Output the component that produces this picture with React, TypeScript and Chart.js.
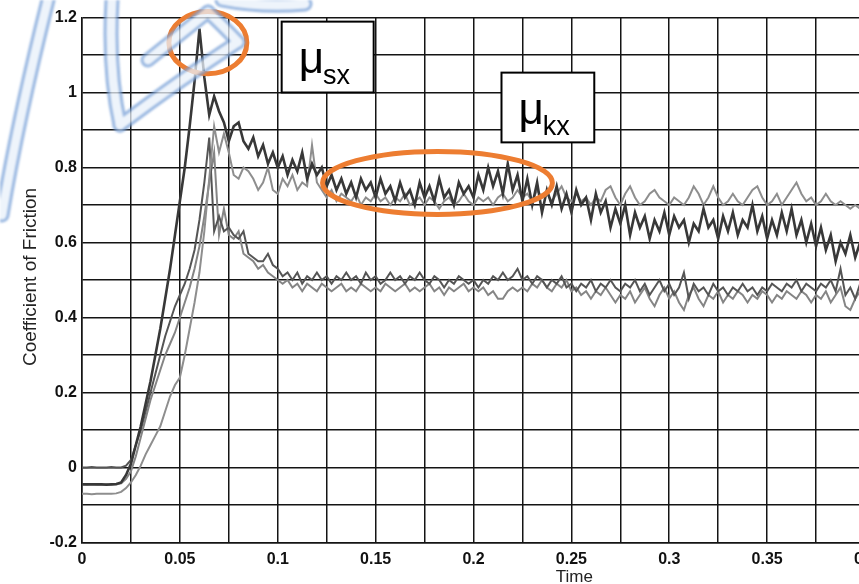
import React, { useEffect, useRef } from "react";
import { Chart, registerables } from "chart.js";

Chart.register(...registerables);

// sample grid: every 0.0025 s from 0 to 0.4
const timeStep = 0.0025;
const time: number[] = Array.from({ length: 161 }, (_, i) => +(i * timeStep).toFixed(4));

const upperDark: number[] = [
  -0.045, -0.045, -0.045, -0.045, -0.045, -0.046, -0.045, -0.044, -0.04, -0.02,
  0.01, 0.06, 0.11, 0.17, 0.23, 0.30, 0.37, 0.45, 0.53, 0.62,
  0.71, 0.80, 0.91, 1.03, 1.17, 1.04, 0.94, 0.99, 0.95, 0.92,
  0.87, 0.91, 0.92, 0.87, 0.85, 0.88, 0.83, 0.86, 0.81, 0.84,
  0.80, 0.83, 0.78, 0.82, 0.79, 0.84, 0.77, 0.81, 0.78, 0.80,
  0.75, 0.78, 0.74, 0.77, 0.73, 0.76, 0.72, 0.77, 0.74, 0.76,
  0.72, 0.77, 0.73, 0.75, 0.71, 0.76, 0.72, 0.74, 0.70, 0.76,
  0.72, 0.75, 0.71, 0.77, 0.72, 0.74, 0.70, 0.76, 0.73, 0.75,
  0.72, 0.78, 0.74, 0.80, 0.75, 0.79, 0.73, 0.81, 0.74, 0.78,
  0.71, 0.77, 0.70, 0.76, 0.68, 0.74, 0.70, 0.75, 0.69, 0.73,
  0.68, 0.74, 0.70, 0.72, 0.66, 0.73, 0.68, 0.71, 0.64, 0.69,
  0.65, 0.70, 0.62, 0.68, 0.64, 0.67, 0.61, 0.66, 0.63, 0.68,
  0.62, 0.67, 0.64, 0.66, 0.60, 0.65, 0.63, 0.69, 0.64, 0.66,
  0.61, 0.67, 0.63, 0.68, 0.62, 0.66, 0.64, 0.70, 0.63, 0.67,
  0.61, 0.66, 0.62, 0.68, 0.63, 0.69, 0.62, 0.66, 0.60, 0.65,
  0.59, 0.64, 0.58, 0.62, 0.55, 0.60, 0.57, 0.62, 0.56, 0.60, 0.58,
];

const upperLight: number[] = [
  -0.07, -0.07, -0.071, -0.07, -0.07, -0.07, -0.07, -0.069, -0.065, -0.055,
  -0.04, -0.02, 0.005, 0.035, 0.06, 0.085, 0.11, 0.15, 0.19, 0.22,
  0.24, 0.30, 0.37, 0.44, 0.52, 0.63, 0.77, 0.91, 0.84, 0.89,
  0.84, 0.78, 0.77, 0.80, 0.79, 0.77, 0.74, 0.76, 0.80, 0.74,
  0.73, 0.77, 0.75, 0.78, 0.74, 0.76, 0.75, 0.86, 0.76, 0.74,
  0.72, 0.74, 0.71, 0.73, 0.72, 0.71, 0.73, 0.70, 0.72, 0.71,
  0.73, 0.71, 0.72, 0.70, 0.72, 0.71, 0.73, 0.70, 0.71, 0.72,
  0.70, 0.72, 0.71, 0.69, 0.71, 0.72, 0.70, 0.71, 0.73, 0.71,
  0.70, 0.72, 0.71, 0.72, 0.70, 0.72, 0.73, 0.71, 0.72, 0.74,
  0.72, 0.73, 0.71, 0.74, 0.72, 0.73, 0.71, 0.73, 0.75, 0.72,
  0.71, 0.73, 0.71, 0.72, 0.70, 0.72, 0.71, 0.74, 0.75, 0.72,
  0.70, 0.73, 0.75, 0.72, 0.70, 0.71, 0.73, 0.74, 0.72, 0.71,
  0.70, 0.72, 0.71, 0.70, 0.72, 0.75, 0.73, 0.70, 0.72, 0.75,
  0.72, 0.70, 0.71, 0.73, 0.71, 0.70, 0.72, 0.74, 0.75, 0.72,
  0.70, 0.71, 0.73, 0.70, 0.72, 0.74, 0.76, 0.73, 0.71, 0.72,
  0.70, 0.71, 0.73, 0.71, 0.70, 0.71, 0.70, 0.69, 0.70, 0.69, 0.69,
];

const lowerDark: number[] = [
  0, 0, 0.001, 0, 0, 0, 0.001, 0, 0, 0.005,
  0.02, 0.06, 0.10, 0.15, 0.20, 0.25, 0.30, 0.35, 0.39, 0.43,
  0.46, 0.49, 0.53, 0.58, 0.66, 0.76, 0.88, 0.63, 0.67, 0.63,
  0.64, 0.62, 0.61, 0.63, 0.57, 0.56, 0.55, 0.55, 0.57, 0.54,
  0.53, 0.51, 0.52, 0.50, 0.52, 0.49, 0.51, 0.50, 0.52, 0.50,
  0.51, 0.49, 0.51, 0.50, 0.52, 0.50, 0.51, 0.49, 0.52, 0.50,
  0.51, 0.49, 0.50, 0.52, 0.50, 0.51, 0.49, 0.51, 0.50, 0.52,
  0.50, 0.49, 0.51, 0.50, 0.48, 0.50, 0.49, 0.51, 0.50, 0.49,
  0.50, 0.48, 0.50, 0.49, 0.51, 0.50, 0.52, 0.50, 0.51, 0.53,
  0.50, 0.51, 0.49, 0.51, 0.50, 0.48, 0.50, 0.49, 0.51, 0.48,
  0.49, 0.47, 0.49, 0.48, 0.50, 0.47, 0.49, 0.48, 0.50, 0.48,
  0.47, 0.49, 0.48, 0.50, 0.47, 0.49, 0.46, 0.48, 0.50, 0.47,
  0.49, 0.46, 0.48, 0.52, 0.45, 0.49, 0.47, 0.48, 0.46, 0.49,
  0.47, 0.48, 0.46, 0.48, 0.47, 0.49, 0.47, 0.48, 0.46, 0.48,
  0.47, 0.49, 0.48, 0.47, 0.49, 0.48, 0.50, 0.47, 0.49, 0.48,
  0.47, 0.49, 0.48, 0.50, 0.47, 0.53, 0.46, 0.48, 0.45, 0.49, 0.47,
];

const lowerLight: number[] = [
  -0.044, -0.045, -0.044, -0.045, -0.045, -0.044, -0.045, -0.045, -0.042, -0.03,
  -0.01, 0.03, 0.08, 0.13, 0.18, 0.22, 0.26, 0.30, 0.33, 0.36,
  0.40, 0.44, 0.48, 0.53, 0.59, 0.67, 0.76, 0.84, 0.62, 0.69,
  0.62, 0.61, 0.63, 0.57, 0.56, 0.55, 0.53, 0.54, 0.52, 0.51,
  0.50, 0.49, 0.50, 0.48, 0.49, 0.47, 0.49, 0.48, 0.47, 0.49,
  0.48, 0.47, 0.48, 0.49, 0.47, 0.48, 0.47, 0.49, 0.48, 0.47,
  0.48, 0.47, 0.49, 0.48, 0.47, 0.48, 0.49, 0.47, 0.48, 0.47,
  0.48, 0.49, 0.47, 0.48, 0.46, 0.48, 0.47, 0.48, 0.49, 0.47,
  0.48, 0.47, 0.48, 0.46, 0.47, 0.45, 0.45, 0.47, 0.48, 0.47,
  0.48, 0.47, 0.49, 0.48, 0.50, 0.48, 0.47, 0.49, 0.48, 0.50,
  0.47, 0.48, 0.46, 0.47, 0.45, 0.47, 0.46, 0.48, 0.46, 0.44,
  0.46, 0.45, 0.47, 0.44, 0.46, 0.48, 0.45, 0.43, 0.46, 0.48,
  0.45, 0.47, 0.44, 0.42, 0.46, 0.48, 0.45, 0.43, 0.46, 0.45,
  0.47, 0.44, 0.46, 0.45, 0.47, 0.46, 0.44, 0.46, 0.45, 0.47,
  0.46, 0.44, 0.46, 0.45, 0.47, 0.46, 0.45, 0.47, 0.46, 0.44,
  0.46, 0.45, 0.47, 0.44, 0.46, 0.48, 0.43, 0.42, 0.45, 0.47, 0.44,
];

const seriesColors = ["#383838", "#8e8e8e", "#555555", "#858585"];
const seriesWidths = [2.6, 2, 2, 2];

const xTitle = "Time";
const yTitle = "Coefficient of Friction";

// annotation anchors in data units
const staticEllipse = { x: 0.0643, y: 1.133, rx: 0.0199, ry: 0.083 };
const kineticEllipse = { x: 0.1816, y: 0.759, rx: 0.0587, ry: 0.084 };
const staticBox = { x0: 0.102, x1: 0.149, y0: 1.189, y1: 1.0, main: "μ", sub: "sx" };
const kineticBox = { x0: 0.2143, x1: 0.2617, y0: 1.053, y1: 0.867, main: "μ", sub: "kx" };

const FONT = "'Liberation Sans', Arial, sans-serif";

// faint watermark strokes (page pixels)
const watermarkPaths: number[][] = [
  [2, 215, 18, 120, 48, 0],
  [112, 0, 108, 70, 120, 125],
  [120, 125, 180, 80, 238, 42],
  [238, 42, 222, 25, 208, 12],
  [208, 12, 178, 36, 148, 60],
  [222, 0, 262, 8, 305, 4],
];

function drawWatermark(ctx: CanvasRenderingContext2D, w: number, h: number) {
  const off = document.createElement("canvas");
  off.width = w;
  off.height = h;
  const o = off.getContext("2d")!;
  o.lineCap = "round";
  o.lineJoin = "round";
  const stroke = (width: number, color: string) => {
    o.strokeStyle = color;
    o.lineWidth = width;
    for (const p of watermarkPaths) {
      o.beginPath();
      o.moveTo(p[0], p[1]);
      o.quadraticCurveTo(p[2], p[3], p[4], p[5]);
      o.stroke();
    }
  };
  stroke(15, "rgb(120,160,215)");
  stroke(9, "rgb(232,240,250)");
  ctx.save();
  ctx.globalAlpha = 0.75;
  (ctx as any).filter = "blur(0.8px)";
  ctx.drawImage(off, 0, 0);
  ctx.restore();
}

const decorPlugin = {
  id: "decor",
  afterDatasetsDraw(chart: any) {
    const { ctx, scales } = chart;
    const xs = scales.x, ys = scales.y;
    const px = (v: number) => xs.getPixelForValue(v);
    const py = (v: number) => ys.getPixelForValue(v);
    ctx.save();
    for (const b of [staticBox, kineticBox]) {
      const l = px(b.x0), r = px(b.x1), t = py(b.y0), bt = py(b.y1);
      ctx.fillStyle = "#ffffff";
      ctx.fillRect(l, t, r - l, bt - t);
      ctx.strokeStyle = "#000";
      ctx.lineWidth = 2;
      ctx.strokeRect(l, t, r - l, bt - t);
      ctx.fillStyle = "#000";
      ctx.textBaseline = "alphabetic";
      ctx.textAlign = "left";
      ctx.font = `44px ${FONT}`;
      const mx = l + 17;
      const base = t + 51;
      ctx.fillText(b.main, mx, base);
      const mw = ctx.measureText(b.main).width;
      ctx.font = `27px ${FONT}`;
      ctx.fillText(b.sub, mx + mw - 1, base + 11);
    }
    ctx.strokeStyle = "#ED7D31";
    ctx.lineWidth = 5;
    for (const e of [staticEllipse, kineticEllipse]) {
      const cx = px(e.x), cy = py(e.y);
      const rx = px(e.x + e.rx) - cx, ry = cy - py(e.y + e.ry);
      ctx.beginPath();
      ctx.ellipse(cx, cy, rx, ry, 0, 0, Math.PI * 2);
      ctx.stroke();
    }
    ctx.restore();
  },
  afterDraw(chart: any) {
    const { ctx, scales, chartArea } = chart;
    ctx.save();
    ctx.fillStyle = "#222";
    ctx.font = `19px ${FONT}`;
    ctx.textAlign = "center";
    ctx.textBaseline = "middle";
    ctx.translate(31, (chartArea.top + chartArea.bottom) / 2 - 3);
    ctx.rotate(-Math.PI / 2);
    ctx.fillText(yTitle, 0, 0);
    ctx.restore();
    ctx.save();
    ctx.fillStyle = "#222";
    ctx.font = `17px ${FONT}`;
    ctx.textAlign = "center";
    ctx.textBaseline = "alphabetic";
    ctx.fillText(xTitle, scales.x.getPixelForValue(0.2515), 582);
    ctx.restore();
    drawWatermark(ctx, chart.width, chart.height);
  },
};

export default function App() {
  const ref = useRef<HTMLCanvasElement | null>(null);
  useEffect(() => {
    if (!ref.current) return;
    const data = [upperDark, upperLight, lowerDark, lowerLight];
    const chart = new Chart(ref.current, {
      type: "line",
      data: {
        datasets: data.map((ys, k) => ({
          data: ys.map((y, i) => ({ x: time[i], y })),
          borderColor: seriesColors[k],
          borderWidth: seriesWidths[k],
          pointRadius: 0,
          tension: 0,
          fill: false,
        })),
      },
      options: {
        animation: false,
        responsive: false,
        maintainAspectRatio: false,
        layout: { padding: { left: 0, right: 35, top: 17.5, bottom: 0 } },
        plugins: { legend: { display: false }, tooltip: { enabled: false } },
        scales: {
          x: {
            type: "linear",
            min: 0,
            max: 0.4,
            afterFit: (s: any) => { s.height = 41.5; },
            ticks: {
              stepSize: 0.025,
              autoSkip: false,
              maxRotation: 0,
              padding: 7,
              color: "#111",
              font: { family: FONT, size: 16, weight: "bold" },
              callback: (v: any) => (Math.round(Number(v) * 40) % 2 === 0 ? String(Number(Number(v).toFixed(3))) : ""),
            },
            grid: { color: "#141414", lineWidth: 1.5, drawTicks: false },
            border: { color: "#141414", width: 1.5 },
          },
          y: {
            min: -0.2,
            max: 1.2,
            afterFit: (s: any) => { s.width = 82; },
            ticks: {
              stepSize: 0.1,
              autoSkip: false,
              padding: 5,
              color: "#111",
              font: { family: FONT, size: 16, weight: "bold" },
              callback: (v: any) => (Math.round(Number(v) * 10) % 2 === 0 ? String(Number(Number(v).toFixed(2))) : ""),
            },
            grid: { color: "#141414", lineWidth: 1.5, drawTicks: false },
            border: { color: "#141414", width: 1.5 },
          },
        },
      },
      plugins: [decorPlugin],
    } as any);
    return () => chart.destroy();
  }, []);
  return (
    <div style={{ position: "fixed", left: 0, top: 0, width: 859, height: 584, overflow: "hidden", background: "#fff" }}>
      <canvas ref={ref} width={900} height={584} style={{ width: 900, height: 584, display: "block" }} />
    </div>
  );
}
